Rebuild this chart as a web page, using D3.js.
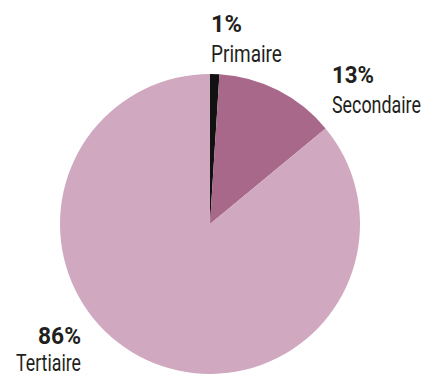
<!DOCTYPE html>
<html><head><meta charset="utf-8">
<script src="https://cdn.jsdelivr.net/npm/d3@7"></script>
<style>
html,body{margin:0;padding:0;background:#fff;}
svg text{font-family:Roboto,"Liberation Sans",sans-serif;fill:#231f20;}
</style></head>
<body>
<svg id="c" width="426" height="376"></svg>
<script>
const categories = ["Primaire", "Secondaire", "Tertiaire"];
const values = [1, 13, 86];
const pctLabels = ["1%", "13%", "86%"];
const colors = ["#111111", "#a8688a", "#d0a8c0"];

const svg = d3.select("#c");
const cx = 210, cy = 224, r = 150;
const g = svg.append("g").attr("transform", `translate(${cx},${cy})`);
const pie = d3.pie().sort(null).value(d => d)(values);
const arc = d3.arc().innerRadius(0).outerRadius(r);
g.selectAll("path").data(pie).join("path")
  .attr("d", arc).attr("fill", (d, i) => colors[i]);

// label layout: anchor x, baselines, target text widths (condensed look)
const labelPos = [
  {x: 211, y: 32, y2: 61.5, anchor: "start", wp: 31, wc: 71},
  {x: 332, y: 83, y2: 112.5, anchor: "start", wp: 42, wc: 89},
  {x: 81, y: 344, y2: 371, anchor: "end", wp: 43, wc: 65}
];
function addLabel(str, x, y, anchor, w, bold) {
  const t = svg.append("text").attr("text-anchor", anchor)
    .style("font-size", "24px").style("font-weight", bold ? "bold" : "normal")
    .text(str);
  const nat = t.node().getComputedTextLength();
  const sx = w / nat;
  t.attr("transform", `translate(${x},${y}) scale(${sx},1)`);
}
categories.forEach((c, i) => {
  const p = labelPos[i];
  addLabel(pctLabels[i], p.x, p.y, p.anchor, p.wp, true);
  addLabel(c, p.x, p.y2, p.anchor, p.wc, false);
});
</script>
</body></html>
